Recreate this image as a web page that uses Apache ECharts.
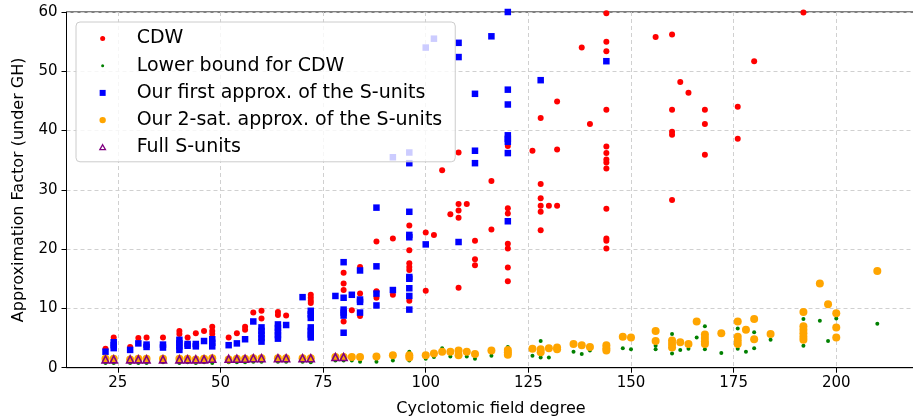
<!DOCTYPE html>
<html><head><meta charset="utf-8">
<script src="https://cdn.jsdelivr.net/npm/echarts@6/dist/echarts.min.js"></script>
<style>html,body{margin:0;padding:0;background:#fff}#c{width:913px;height:418px}</style>
</head><body><div id="c"></div>
<script>
const xTicks = [25, 50, 75, 100, 125, 150, 175, 200];
const seriesNames = ['CDW', 'Lower bound for CDW', 'Our first approx. of the S-units', 'Our 2-sat. approx. of the S-units', 'Full S-units'];

const cdw = [[22,3.2],[24,5.1],[28,3.5],[30,5.0],[32,5.1],[36,5.1],[40,6.2],[40,5.7],[42,5.1],[44,5.8],[46,6.2],[48,6.9],[48,6.2],[48,5.7],[52,5.1],[54,5.8],[56,6.9],[56,6.4],[58,9.3],[60,9.6],[60,8.3],[64,9.4],[64,8.9],[66,8.8],[72,12.3],[72,11.8],[72,11.3],[72,10.9],[80,16.0],[80,14.2],[80,13.1],[80,7.8],[82,9.7],[84,17.0],[84,12.5],[84,8.7],[88,21.3],[88,12.9],[88,11.8],[92,21.8],[92,12.3],[96,24.0],[96,19.8],[96,17.6],[96,17.0],[96,16.5],[96,11.3],[100,22.8],[100,13.0],[102,22.4],[104,33.3],[106,25.9],[108,36.3],[108,27.6],[108,26.5],[108,25.3],[108,13.5],[110,27.6],[112,21.4],[112,18.3],[112,17.3],[116,31.5],[116,23.3],[120,37.4],[120,26.9],[120,26.0],[120,20.9],[120,20.1],[120,16.9],[120,14.6],[126,36.6],[128,42.1],[128,31.0],[128,28.6],[128,27.3],[128,26.3],[128,23.2],[130,27.3],[132,44.9],[132,36.8],[132,27.3],[138,54.0],[140,41.1],[144,59.8],[144,55.0],[144,53.4],[144,43.5],[144,37.3],[144,36.2],[144,35.1],[144,34.6],[144,33.6],[144,26.8],[144,21.8],[144,21.4],[144,20.1],[156,55.8],[160,56.2],[160,43.5],[160,39.8],[160,39.3],[160,28.3],[162,48.2],[164,46.4],[168,43.5],[168,41.1],[168,35.9],[176,44.0],[176,38.6],[180,51.7],[192,59.9]];

const lowerBound = [[22,0.8],[24,0.8],[28,0.8],[30,0.8],[32,0.8],[36,0.9],[40,0.8],[42,0.9],[44,0.8],[46,0.9],[48,0.8],[52,0.9],[54,0.9],[56,0.9],[58,1.0],[60,1.0],[64,1.0],[66,1.0],[70,1.0],[72,0.9],[78,1.2],[80,1.2],[82,1.2],[84,1.0],[88,1.0],[92,1.2],[96,2.7],[96,1.2],[100,1.5],[102,1.8],[104,3.3],[106,1.9],[108,1.9],[110,1.9],[112,1.5],[116,2.0],[120,3.5],[126,2.0],[128,4.5],[128,1.7],[130,1.7],[132,2.9],[136,2.7],[138,2.3],[140,2.9],[144,3.0],[148,3.3],[150,3.1],[156,3.7],[156,3.1],[160,5.7],[160,2.4],[162,3.0],[164,3.2],[166,5.1],[168,7.0],[168,3.1],[172,2.5],[176,6.6],[176,3.2],[178,2.7],[180,6.0],[180,3.3],[184,4.7],[192,8.2],[192,3.7],[196,7.9],[198,4.5],[200,8.3],[210,7.4]];

const firstApprox = [[22,2.7],[24,4.3],[24,3.8],[24,3.3],[28,3.0],[30,4.1],[32,3.9],[32,3.5],[36,3.9],[36,3.4],[40,4.7],[40,4.1],[40,3.6],[40,3.0],[42,4.0],[42,3.7],[44,4.0],[44,3.6],[46,4.5],[48,4.8],[48,4.2],[48,3.6],[52,3.8],[54,4.1],[56,4.8],[58,7.8],[60,6.8],[60,6.2],[60,5.6],[60,5.0],[60,4.4],[64,7.3],[64,6.7],[64,6.1],[64,5.5],[64,4.9],[66,7.2],[70,11.9],[72,9.6],[72,9.0],[72,8.4],[72,6.8],[72,6.2],[72,5.6],[72,5.1],[78,12.1],[80,17.8],[80,11.8],[80,9.8],[80,9.3],[80,8.8],[80,5.9],[82,12.3],[84,16.4],[84,11.5],[84,11.1],[84,9.3],[88,27.0],[88,17.1],[88,12.5],[88,10.5],[92,35.5],[92,13.1],[96,36.3],[96,34.5],[96,26.3],[96,22.4],[96,22.0],[96,15.3],[96,15.0],[96,13.4],[96,12.1],[96,9.8],[100,54.0],[100,20.8],[102,55.5],[108,54.8],[108,52.4],[108,21.2],[112,46.2],[112,36.6],[112,34.5],[116,55.9],[120,60.0],[120,46.9],[120,44.4],[120,39.2],[120,38.6],[120,38.1],[120,36.2],[120,24.7],[128,48.5],[144,51.7]];

const twoSatApprox = [[22,1.5],[24,1.5],[28,1.4],[30,1.5],[32,1.5],[36,1.5],[40,1.5],[42,1.5],[44,1.4],[46,1.5],[48,1.6],[52,1.4],[54,1.5],[56,1.5],[58,1.6],[60,1.6],[64,1.6],[66,1.6],[70,1.6],[72,1.6],[78,1.8],[80,1.8],[82,1.8],[84,1.8],[88,1.9],[92,2.1],[96,2.1],[96,1.7],[100,2.1],[102,2.4],[104,2.7],[106,2.7],[108,2.9],[108,2.1],[110,2.7],[112,2.3],[116,2.9],[120,3.0],[120,2.6],[120,2.2],[126,3.2],[128,3.1],[128,2.6],[130,3.3],[132,3.4],[132,3.1],[136,4.0],[138,3.8],[140,3.5],[144,3.8],[144,3.3],[144,2.9],[148,5.2],[150,5.1],[156,6.2],[156,4.5],[160,4.6],[160,4.0],[160,3.4],[162,4.3],[164,4.0],[166,7.8],[168,5.6],[168,5.0],[168,4.4],[168,4.0],[172,5.8],[176,7.8],[176,5.2],[176,4.6],[176,4.0],[178,6.4],[180,8.2],[180,4.8],[184,5.7],[192,9.4],[192,7.0],[192,6.4],[192,5.8],[192,5.2],[192,4.7],[196,14.2],[198,10.7],[200,9.2],[200,6.8],[200,5.1],[210,16.3]];

const fullSUnits = [[22,1.4],[24,1.4],[28,1.4],[30,1.4],[32,1.4],[36,1.4],[40,1.4],[42,1.4],[44,1.4],[46,1.4],[48,1.5],[52,1.5],[54,1.5],[56,1.5],[58,1.6],[60,1.6],[64,1.6],[66,1.6],[70,1.6],[72,1.6],[78,1.8],[80,1.8]];

const FONT = 'DejaVu Sans';
const chart = echarts.init(document.getElementById('c'), null, {renderer: 'canvas'});
const axisCommon = {
  axisLine: {show: true, onZero: false, lineStyle: {color: '#000', width: 1}},
  axisTick: {show: true, length: 5, inside: false, lineStyle: {color: '#000', width: 1}},
  splitLine: {show: true, lineStyle: {color: '#d0d0d0', type: [4, 3], width: 1}},
  axisLabel: {color: '#000', fontFamily: FONT, fontSize: 15, margin: 8},
  nameLocation: 'middle',
  nameTextStyle: {color: '#000', fontFamily: FONT, fontSize: 16}
};
chart.setOption({
  animation: false,
  backgroundColor: '#fff',
  grid: {left: 66.5, top: 12, width: 849, height: 355.7, show: true, borderColor: '#000', borderWidth: 1, backgroundColor: 'transparent', containLabel: false, outerBoundsMode: 'none'},
  xAxis: Object.assign({}, axisCommon, {
    type: 'value', min: 12.5, max: 219.3,
    name: 'Cyclotomic field degree', nameGap: 33,
    axisTick: Object.assign({}, axisCommon.axisTick, {customValues: xTicks}),
    axisLabel: Object.assign({}, axisCommon.axisLabel, {customValues: xTicks})
  }),
  yAxis: Object.assign({}, axisCommon, {
    type: 'value', min: 0, max: 60, interval: 10,
    name: 'Approximation Factor (under GH)', nameGap: 40,
    axisLabel: Object.assign({}, axisCommon.axisLabel, {margin: 9})
  }),
  legend: {
    orient: 'vertical', left: 76, top: 22,
    padding: [7, 13, 5, 22],
    itemWidth: 8, itemHeight: 8, itemGap: 8.2,
    backgroundColor: 'rgba(255,255,255,0.8)', borderColor: '#cccccc', borderWidth: 1, borderRadius: 4,
    textStyle: {fontFamily: FONT, fontSize: 19, color: '#000', lineHeight: 19,
      rich: {t: {fontFamily: FONT, fontSize: 19, color: '#000', lineHeight: 19, padding: [0, 0, 0, 25]}}},
    formatter: function (n) { return '{t|' + n + '}'; },
    data: [
      {name: seriesNames[0], icon: 'path://M0,0M8,8M1.5,4A2.5,2.5 0 1 1 6.5,4A2.5,2.5 0 1 1 1.5,4Z'},
      {name: seriesNames[1], icon: 'path://M0,0M8,8M2.5,4A1.5,1.5 0 1 1 5.5,4A1.5,1.5 0 1 1 2.5,4Z'},
      {name: seriesNames[2], icon: 'path://M0,0M8,8M1,1H7V7H1Z'},
      {name: seriesNames[3], icon: 'path://M0,0M8,8M0.8,4A3.2,3.2 0 1 1 7.2,4A3.2,3.2 0 1 1 0.8,4Z'},
      {name: seriesNames[4], icon: 'path://M0,0M8,8M4,1.4L6.8,6.4L1.2,6.4Z', itemStyle: {borderWidth: 1.3}}
    ]
  },
  series: [
    {name: seriesNames[0], type: 'scatter', data: cdw, symbol: 'circle', symbolSize: 6, itemStyle: {color: '#ff0000', opacity: 1}},
    {name: seriesNames[1], type: 'scatter', data: lowerBound, symbol: 'circle', symbolSize: 4, itemStyle: {color: '#008000', opacity: 1}},
    {name: seriesNames[2], type: 'scatter', data: firstApprox, symbol: 'rect', symbolSize: 6.5, itemStyle: {color: '#0000ff', opacity: 1}},
    {name: seriesNames[3], type: 'scatter', data: twoSatApprox, symbol: 'circle', symbolSize: 8, itemStyle: {color: '#ffa500', opacity: 1}},
    {name: seriesNames[4], type: 'scatter', data: fullSUnits, symbol: 'triangle', symbolSize: 7, itemStyle: {color: 'rgba(0,0,0,0)', borderColor: '#800080', borderWidth: 1.6, opacity: 1}}
  ]
});
</script>
</body></html>
